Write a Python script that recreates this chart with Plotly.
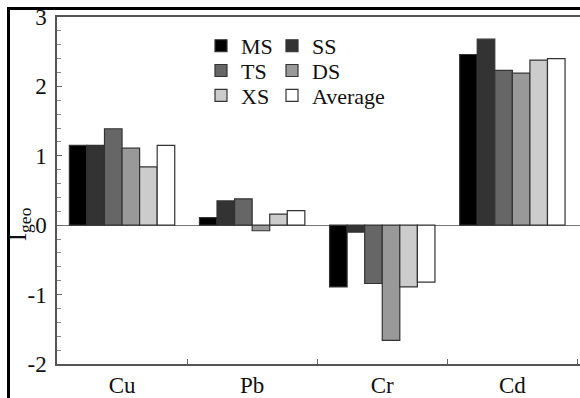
import plotly.graph_objects as go

categories = ["Cu", "Pb", "Cr", "Cd"]
series_names = ["MS", "SS", "TS", "DS", "XS", "Average"]
MS = [1.15, 0.11, -0.89, 2.46]
SS = [1.15, 0.35, -0.10, 2.68]
TS = [1.39, 0.38, -0.84, 2.23]
DS = [1.11, -0.08, -1.66, 2.19]
XS = [0.84, 0.16, -0.89, 2.38]
AVG = [1.15, 0.21, -0.82, 2.40]
values = [MS, SS, TS, DS, XS, AVG]
colors = ["#000000", "#333333", "#666666", "#999999", "#cccccc", "#ffffff"]
y_ticks = [-2, -1, 0, 1, 2, 3]
y_ticktext = ["-2", "-1", "0", "1", "2", "3"]

FONT = "Liberation Serif"
W, H = 580, 398
L, R, T, B = 57, 0, 17, 398 - 367
pw = W - L - R
ph = H - T - B


def px_x(page_x):
    return (page_x - L) / pw


def px_y(page_y):
    return 1 - (page_y - T) / ph


# legend slots (px of legend box top-left), one legend per entry
legend_ids = ["legend", "legend2", "legend3", "legend4", "legend5", "legend6"]
legend_pos = [(201, 25), (272, 25), (201, 50), (272, 50), (201, 75), (272, 75)]

fig = go.Figure()
for name, vals, col, lg in zip(series_names, values, colors, legend_ids):
    fig.add_trace(go.Bar(
        name=name, x=categories, y=vals,
        marker=dict(color=col, line=dict(color="#333333", width=1.2)),
        legend=lg, showlegend=True,
    ))

legend_layout = {}
for lg, (lx, ly) in zip(legend_ids, legend_pos):
    legend_layout[lg] = dict(
        x=px_x(lx), y=px_y(ly), xanchor="left", yanchor="top",
        bgcolor="rgba(0,0,0,0)", font=dict(size=22, color="#111111"),
        itemwidth=30, borderwidth=0, visible=True,
    )

fig.update_layout(
    width=W, height=H, showlegend=True,
    margin=dict(l=L, r=R, t=T, b=B, pad=0),
    plot_bgcolor="white", paper_bgcolor="white",
    barmode="group", bargap=0.19, bargroupgap=0,
    font=dict(family=FONT, size=22, color="#111111"),
    xaxis=dict(
        range=[-0.5, 3.52], showline=True, linecolor="#555555", linewidth=1.5,
        mirror=True, ticks="inside", tickson="boundaries", ticklen=5,
        tickcolor="#666666", showgrid=False, tickfont=dict(size=23),
        ticklabeloverflow="allow",
    ),
    yaxis=dict(
        range=[-2, 3], tickvals=y_ticks, ticktext=y_ticktext, showline=True,
        linecolor="#555555", linewidth=1.5, mirror=False,
        ticks="inside", ticklen=5, tickcolor="#666666", showgrid=False,
        zeroline=True, zerolinecolor="#777777", zerolinewidth=1,
        minor=dict(dtick=0.2, ticks="inside", ticklen=4, tickcolor="#888888"),
        ticklabelstandoff=4, tickfont=dict(size=23), ticklabeloverflow="allow",
    ),
    annotations=[dict(
        text="I<sub>geo</sub>", textangle=-90, xref="paper", yref="paper",
        x=px_x(19), y=px_y(226), showarrow=False,
        font=dict(size=25), xanchor="center", yanchor="middle",
    )],
    shapes=[
        dict(type="rect", xref="paper", yref="paper",
             x0=px_x(8.5), x1=px_x(600), y0=px_y(420), y1=px_y(8.5),
             line=dict(color="black", width=3), fillcolor="rgba(0,0,0,0)",
             layer="below"),
    ],
    **legend_layout,
)

fig.write_html(
    "out.html",
    config={"displayModeBar": False},
    post_script="document.body.style.margin='0px';document.body.style.overflow='hidden';",
)
